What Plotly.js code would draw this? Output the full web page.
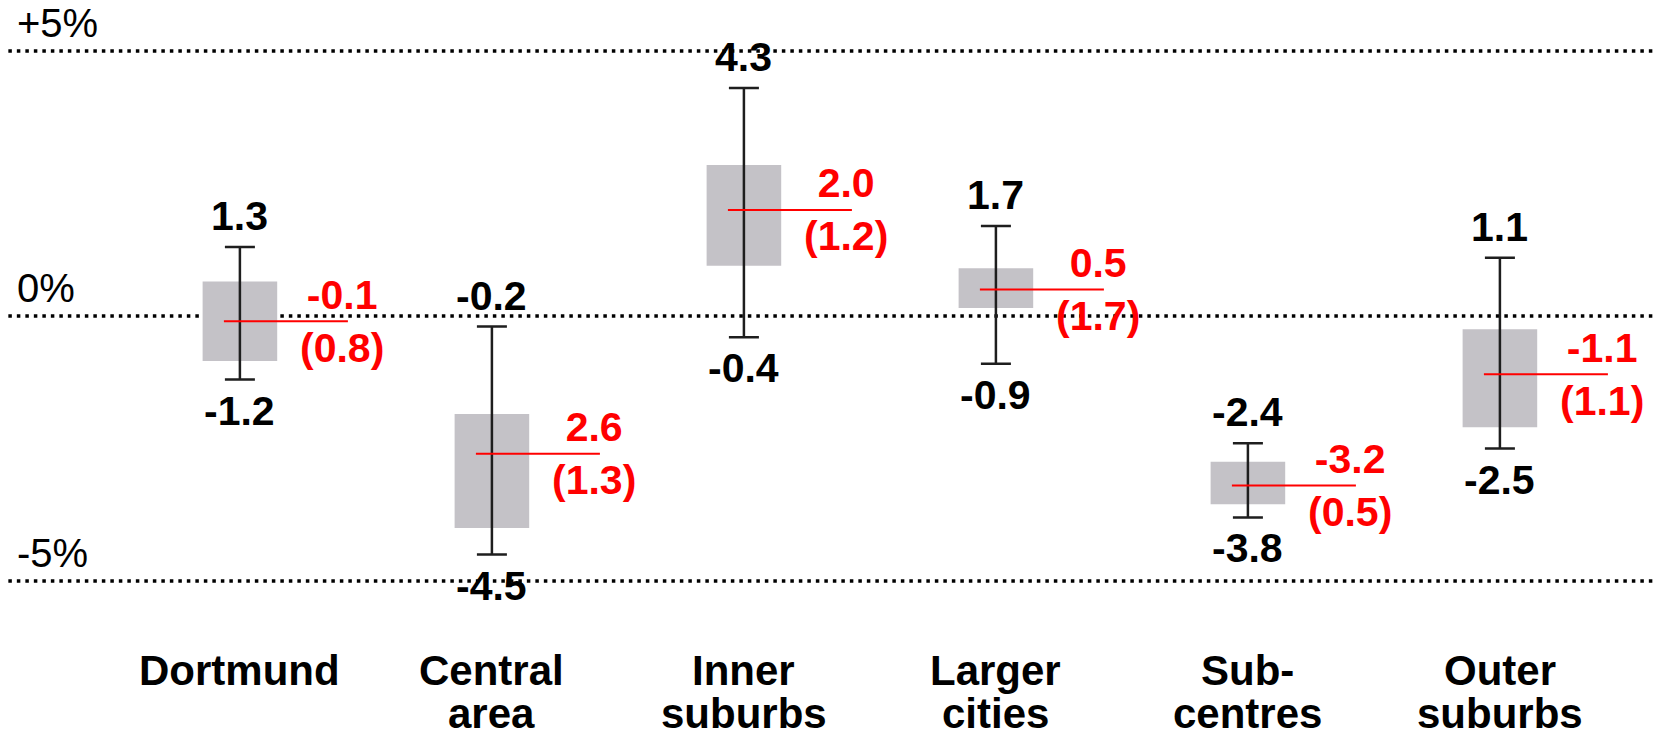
<!DOCTYPE html>
<html>
<head>
<meta charset="utf-8">
<script src="https://cdn.plot.ly/plotly-3.0.1.min.js"></script>
<style>
html, body { margin: 0; padding: 0; background: #ffffff; }
#chart { width: 1669px; height: 737px; }
</style>
</head>
<body>
<div id="chart"></div>
<script>
// ---- data ----
const categories = ["Dortmund", "Central<br>area", "Inner<br>suburbs", "Larger<br>cities", "Sub-<br>centres", "Outer<br>suburbs"];
const maxValues  = [1.3, -0.2, 4.3, 1.7, -2.4, 1.1];
const minValues  = [-1.2, -4.5, -0.4, -0.9, -3.8, -2.5];
const meanValues = [-0.1, -2.6, 2.0, 0.5, -3.2, -1.1];
const meanLabels = ["-0.1", "2.6", "2.0", "0.5", "-3.2", "-1.1"];
const sdValues   = [0.8, 1.3, 1.2, 1.7, 0.5, 1.1];
const boxHigh    = [0.65, -1.85, 2.85, 0.9, -2.75, -0.25];
const boxLow     = [-0.85, -4.0, 0.95, 0.15, -3.55, -2.1];
const gridValues = [5, 0, -5];
const gridLabels = ["+5%", "0%", "-5%"];

// ---- styles ----
const FONT = "Liberation Sans, Arial, Helvetica, sans-serif";
const BOX_COLOR = "#c4c2c7";
const WHISKER_COLOR = "#1e1e1e";
const RED = "#ff0000";

const idx = categories.map((_, i) => i);

const boxTrace = {
  type: "bar",
  x: categories,
  y: boxHigh.map((h, i) => h - boxLow[i]),
  base: boxLow,
  width: 0.296,
  marker: { color: BOX_COLOR, line: { width: 0 } },
  hoverinfo: "skip",
  showlegend: false
};

const whiskerTrace = {
  type: "scatter",
  mode: "markers",
  x: categories,
  y: maxValues.map((m, i) => (m + minValues[i]) / 2),
  marker: { size: 1, opacity: 0 },
  error_y: {
    type: "data",
    symmetric: true,
    array: maxValues.map((m, i) => (m - minValues[i]) / 2),
    color: WHISKER_COLOR,
    thickness: 2.5,
    width: 15
  },
  hoverinfo: "skip",
  showlegend: false
};

const shapes = [];
gridValues.forEach(v => {
  shapes.push({
    type: "line", xref: "paper", yref: "y",
    x0: 0.005, x1: 0.991, y0: v, y1: v,
    line: { color: "#000000", width: 3.5, dash: "3.5px,5px" },
    layer: "below"
  });
});
idx.forEach(i => {
  shapes.push({
    type: "line", xref: "x", yref: "y",
    xsizemode: "pixel", xanchor: i, x0: -16, x1: 108,
    y0: meanValues[i], y1: meanValues[i],
    line: { color: RED, width: 2 }
  });
});

const annotations = [];
gridValues.forEach((v, k) => {
  annotations.push({
    xref: "paper", yref: "y", x: 0, y: v,
    xanchor: "left", yanchor: "bottom", xshift: 15, yshift: 4,
    text: gridLabels[k], showarrow: false,
    font: { family: FONT, size: 40, color: "#000000" }
  });
});
idx.forEach(i => {
  annotations.push({
    xref: "x", yref: "y", x: i, y: maxValues[i],
    xanchor: "center", yanchor: "bottom", yshift: 6,
    text: "<b>" + maxValues[i].toFixed(1) + "</b>", showarrow: false,
    font: { family: FONT, size: 41, color: "#000000" }
  });
  annotations.push({
    xref: "x", yref: "y", x: i, y: minValues[i],
    xanchor: "center", yanchor: "top", yshift: -6,
    text: "<b>" + minValues[i].toFixed(1) + "</b>", showarrow: false,
    font: { family: FONT, size: 41, color: "#000000" }
  });
  annotations.push({
    xref: "x", yref: "y", x: i, y: meanValues[i],
    xanchor: "center", yanchor: "middle", xshift: 102,
    text: "<b>" + meanLabels[i] + "<br>(" + sdValues[i].toFixed(1) + ")</b>", showarrow: false,
    font: { family: FONT, size: 41, color: RED }
  });
  // category labels: each line placed separately for tight line spacing
  categories[i].split("<br>").forEach((line, k) => {
    annotations.push({
      xref: "x", yref: "paper", x: i, y: 0,
      xanchor: "center", yanchor: "middle", yshift: -36 - 43 * k,
      borderpad: 0,
      text: "<b>" + line + "</b>", showarrow: false,
      font: { family: FONT, size: 42, color: "#000000" }
    });
  });
});

const layout = {
  width: 1669,
  height: 737,
  margin: { l: 0, r: 0, t: 0, b: 103, pad: 0 },
  paper_bgcolor: "#ffffff",
  plot_bgcolor: "#ffffff",
  showlegend: false,
  xaxis: {
    type: "category",
    range: [-0.952, 5.671],
    showgrid: false, zeroline: false, showline: false,
    ticks: "", showticklabels: false,
    automargin: false,
    fixedrange: true
  },
  yaxis: {
    range: [-6.0, 5.962],
    showgrid: false, zeroline: false, showline: false,
    showticklabels: false, ticks: "",
    automargin: false,
    fixedrange: true
  },
  shapes: shapes,
  annotations: annotations
};

Plotly.newPlot("chart", [boxTrace, whiskerTrace], layout, { displayModeBar: false, staticPlot: true });
</script>
</body>
</html>
